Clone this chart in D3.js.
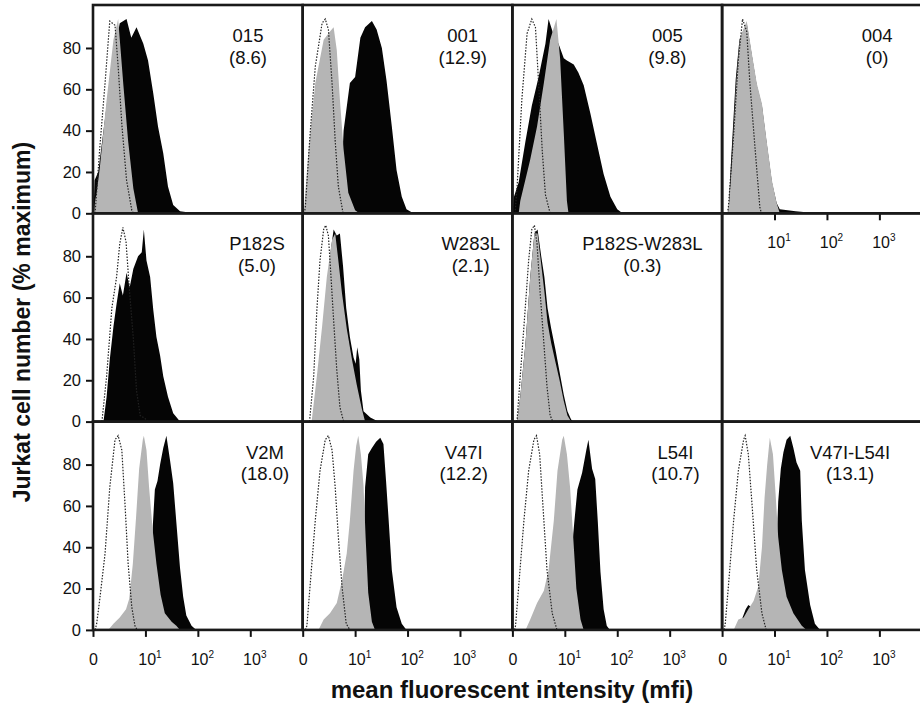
<!DOCTYPE html>
<html>
<head>
<meta charset="utf-8">
<script src="https://cdn.jsdelivr.net/npm/d3@7"></script>
<style>
body { margin: 0; background: #fff; }
svg text { font-family: "Liberation Sans", Arial, Helvetica, sans-serif; fill: #111; }
</style>
</head>
<body>
<div id="canvas"></div>
<script>
// panels row by row, null = empty cell
var panelNames = ["015", "001", "005", "004",
                  "P182S", "W283L", "P182S-W283L", null,
                  "V2M", "V47I", "L54I", "V47I-L54I"];
var panelMfi = ["8.6", "12.9", "9.8", "0",
                "5.0", "2.1", "0.3", null,
                "18.0", "12.2", "10.7", "13.1"];

// histograms as [log10 fluorescence, % maximum]
// dotted outline (control)
var controlCurves = [
    [[0.04,0],[0.13,32],[0.23,63],[0.32,93],[0.42,91],[0.48,71],[0.55,43],[0.64,16],[0.74,1.5],[0.77,0]],
    [[0.03,0],[0.05,3],[0.14,38],[0.24,71],[0.37,92],[0.43,94],[0.49,89],[0.56,63],[0.62,35],[0.68,13],[0.77,0]],
    [[0.05,0],[0.09,13],[0.18,55],[0.28,87],[0.37,94],[0.44,90],[0.50,63],[0.57,30],[0.63,9],[0.72,0]],
    [[0.10,0],[0.12,3],[0.22,38],[0.31,74],[0.39,94],[0.47,88],[0.53,63],[0.63,31],[0.72,3],[0.75,0]],
    [[0.17,0],[0.26,22],[0.36,55],[0.45,70],[0.51,86],[0.57,94],[0.63,87],[0.70,62],[0.77,40],[0.83,15],[0.90,3],[0.99,1.5],[1.05,0]],
    [[0.13,0],[0.21,22],[0.27,54],[0.33,78],[0.40,93],[0.44,95],[0.49,90],[0.54,70],[0.59,49],[0.65,25],[0.71,7],[0.78,0]],
    [[0.07,0],[0.09,1],[0.15,22],[0.22,46],[0.31,78],[0.37,93],[0.42,95],[0.47,86],[0.53,62],[0.60,38],[0.66,17],[0.72,3],[0.77,0]],
    null,
    [[0.04,0],[0.07,3],[0.13,15],[0.23,37],[0.32,69],[0.42,92],[0.48,94],[0.55,87],[0.61,61],[0.67,32],[0.74,11],[0.80,2],[0.84,0]],
    [[0.05,0],[0.08,2],[0.14,21],[0.24,53],[0.33,77],[0.43,92],[0.49,94],[0.56,87],[0.62,69],[0.68,45],[0.75,21],[0.83,3],[0.90,0]],
    [[0.04,0],[0.06,2],[0.12,21],[0.22,53],[0.31,77],[0.41,92],[0.46,94],[0.52,85],[0.58,61],[0.66,29],[0.76,8],[0.85,0]],
    [[0.04,0],[0.06,3],[0.12,21],[0.22,53],[0.31,77],[0.41,92],[0.44,94],[0.50,85],[0.57,61],[0.66,29],[0.76,8],[0.84,0]]
];
// grey filled histogram
var greyCurves = [
    [[0.02,0],[0.04,6],[0.07,10],[0.13,22],[0.26,55],[0.39,84],[0.48,94],[0.58,62],[0.67,35],[0.77,12],[0.86,0]],
    [[0.02,0],[0.03,3],[0.11,30],[0.24,63],[0.40,84],[0.52,88],[0.59,90],[0.65,79],[0.71,55],[0.78,31],[0.87,10],[1.00,1.5],[1.08,0]],
    [[0.12,0],[0.15,6],[0.34,26],[0.47,42],[0.60,63],[0.72,84],[0.84,94],[0.91,75],[0.98,39],[1.04,6],[1.07,0]],
    [[0.12,0],[0.18,22],[0.27,63],[0.34,85],[0.47,93],[0.57,77],[0.66,63],[0.76,53],[0.85,35],[0.95,16],[1.04,5],[1.10,0]],
    null,
    [[0.17,0],[0.27,22],[0.37,46],[0.46,70],[0.56,88],[0.62,91],[0.68,78],[0.75,62],[0.84,45],[0.94,30],[1.03,18],[1.13,6],[1.19,0]],
    [[0.09,0],[0.15,12],[0.25,38],[0.34,70],[0.42,91],[0.48,91],[0.55,76],[0.61,63],[0.67,48],[0.74,38],[0.82,29],[0.90,20],[0.98,10],[1.05,3],[1.12,0]],
    null,
    [[0.29,0],[0.39,3],[0.51,6],[0.63,10],[0.69,15],[0.76,32],[0.82,54],[0.88,78],[0.95,92],[0.97,94],[1.02,87],[1.07,69],[1.14,48],[1.21,32],[1.29,17],[1.37,8],[1.50,4],[1.59,2],[1.66,0]],
    [[0.30,0],[0.40,5],[0.52,8],[0.65,13],[0.75,24],[0.84,37],[0.90,53],[0.97,77],[1.02,89],[1.06,94],[1.11,85],[1.16,70],[1.20,45],[1.25,18],[1.32,4],[1.38,0]],
    [[0.25,0],[0.34,5],[0.47,13],[0.60,19],[0.69,29],[0.79,53],[0.86,77],[0.95,92],[0.98,94],[1.04,85],[1.10,69],[1.16,45],[1.22,20],[1.30,5],[1.36,0]],
    [[0.22,0],[0.31,5],[0.41,6],[0.50,10],[0.60,14],[0.69,21],[0.76,40],[0.81,64],[0.86,80],[0.91,93],[0.97,85],[1.02,66],[1.07,45],[1.14,29],[1.23,16],[1.36,8],[1.52,2],[1.61,0]]
];
// black filled histogram
var blackCurves = [
    [[0.01,0],[0.03,16],[0.10,20],[0.20,40],[0.35,70],[0.51,92],[0.64,94],[0.73,85],[0.83,90],[0.96,82],[1.05,74],[1.15,58],[1.24,42],[1.34,29],[1.43,13],[1.53,4],[1.66,1],[1.80,0.5],[2.80,0.3],[2.90,0]],
    [[0.68,0],[0.72,5],[0.78,40],[0.90,63],[1.00,66],[1.10,85],[1.19,90],[1.32,93],[1.41,89],[1.51,80],[1.60,64],[1.70,42],[1.79,21],[1.89,8],[1.98,2],[2.11,0]],
    [[0.00,0],[0.03,8],[0.12,15],[0.25,35],[0.37,52],[0.50,66],[0.63,82],[0.69,94],[0.79,86],[0.88,82],[0.98,75],[1.04,74],[1.17,72],[1.26,68],[1.36,62],[1.49,48],[1.61,34],[1.74,19],[1.87,8],[2.00,2],[2.10,0]],
    [[0.12,0],[0.17,25],[0.26,65],[0.33,84],[0.47,92],[0.57,76],[0.66,62],[0.76,52],[0.85,34],[0.95,15],[1.04,5],[1.10,2],[1.25,1.5],[1.40,1],[1.60,0.5],[2.20,0.3],[2.30,0]],
    [[0.20,0],[0.26,12],[0.32,30],[0.39,46],[0.45,57],[0.51,67],[0.57,61],[0.64,72],[0.70,65],[0.77,74],[0.86,80],[0.93,82],[0.97,93],[1.02,78],[1.09,70],[1.15,54],[1.21,41],[1.28,32],[1.34,22],[1.43,12],[1.53,4],[1.66,0]],
    [[0.45,0],[0.52,80],[0.59,93],[0.65,90],[0.71,91],[0.77,75],[0.83,55],[0.90,41],[0.97,31],[1.01,28],[1.04,36],[1.08,30],[1.11,15],[1.16,5],[1.29,2],[1.44,0]],
    [[0.09,0],[0.15,12],[0.25,38],[0.34,70],[0.42,91],[0.48,93],[0.55,80],[0.61,70],[0.67,55],[0.74,45],[0.82,35],[0.90,24],[0.98,13],[1.05,5],[1.12,1],[1.16,0]],
    null,
    [[1.00,0],[1.09,10],[1.14,50],[1.18,68],[1.23,72],[1.28,80],[1.34,88],[1.40,94],[1.47,82],[1.53,71],[1.59,52],[1.66,30],[1.72,16],[1.78,7],[1.88,2],[1.97,0]],
    [[1.00,0],[1.16,30],[1.19,69],[1.25,85],[1.32,88],[1.40,91],[1.48,93],[1.54,90],[1.59,72],[1.64,53],[1.70,29],[1.79,11],[1.89,3],[1.98,0]],
    [[1.00,0],[1.14,40],[1.18,52],[1.24,68],[1.33,76],[1.41,87],[1.45,92],[1.52,78],[1.58,73],[1.63,52],[1.68,28],[1.74,10],[1.80,2],[1.86,0]],
    [[0.30,0],[0.45,10],[0.50,12],[0.56,11],[0.70,10],[0.90,15],[1.00,20],[1.04,40],[1.07,62],[1.12,78],[1.17,86],[1.23,92],[1.30,94],[1.36,88],[1.42,81],[1.49,77],[1.52,53],[1.58,29],[1.68,12],[1.77,3],[1.87,0]]
];

var yTicks = [0, 20, 40, 60, 80];
var xTicks = [1, 10, 100, 1000];

// layout
var W = 920, H = 708;
var gridLeft = 93, gridTop = 5, pw = 209.7, ph = 208.3, ncol = 4;
var labelX = [155, 160, 155, 155, 164, 168, 130, 0, 172, 161, 163, 128];

var svg = d3.select("#canvas").append("svg").attr("width", W).attr("height", H);

svg.append("defs").append("clipPath").attr("id", "cell")
    .append("rect").attr("x", 0).attr("y", 0).attr("width", pw).attr("height", ph);

var x = d3.scaleLog().domain([1, 1e4]).range([0, pw]);
var y = d3.scaleLinear().domain([0, 100.8]).range([ph, 0]);

var area = d3.area().x(d => x(Math.pow(10, d[0]))).y0(ph).y1(d => y(d[1]));
var line = d3.line().x(d => x(Math.pow(10, d[0]))).y(d => y(d[1]));

function supLabels(sel) {
    sel.selectAll(".tick text").each(function(d) {
        var t = d3.select(this).text("").attr("y", 35).attr("dy", null)
            .style("font-size", "16px");
        if (d === 1) { t.text("0"); return; }
        t.attr("dx", "4px");
        t.append("tspan").text("10");
        t.append("tspan").text(Math.round(Math.log10(d)))
            .attr("dy", "-7").style("font-size", "10px");
    });
}

panelNames.forEach(function(name, i) {
    var r = Math.floor(i / ncol), c = i % ncol;
    var g = svg.append("g").attr("transform", "translate(" + (gridLeft + c * pw) + "," + (gridTop + r * ph) + ")");
    var plot = g.append("g").attr("clip-path", "url(#cell)");

    if (blackCurves[i]) plot.append("path").attr("d", area(blackCurves[i])).attr("fill", "#050505");
    if (greyCurves[i]) plot.append("path").attr("d", area(greyCurves[i])).attr("fill", "#b5b5b5");
    if (controlCurves[i]) plot.append("path").attr("d", line(controlCurves[i]))
        .attr("fill", "none").attr("stroke", "#222").attr("stroke-width", 1.2)
        .attr("stroke-dasharray", "1.5,1.5");

    if (name) {
        g.append("text").attr("x", labelX[i]).attr("y", 37)
            .attr("text-anchor", "middle").style("font-size", "18.5px").text(name);
        g.append("text").attr("x", labelX[i]).attr("y", 58.5)
            .attr("text-anchor", "middle").style("font-size", "18.5px").text("(" + panelMfi[i] + ")");
    }

    // y axis on the first column
    if (c === 0) {
        var ya = g.append("g").call(d3.axisLeft(y).tickValues(yTicks).tickSize(7).tickPadding(5));
        ya.select(".domain").remove();
        ya.selectAll(".tick line").attr("stroke", "#111").attr("stroke-width", 2);
        ya.selectAll(".tick text").style("font-size", "16.5px").attr("fill", "#111");
    }

    // x axis on the bottom row and under panel 004
    if (r === 2 || i === 3) {
        var ticks = (r === 2) ? xTicks : xTicks.slice(1);
        var xa = g.append("g").attr("transform", "translate(0," + ph + ")")
            .call(d3.axisBottom(x).tickValues(ticks).tickSize(7));
        xa.select(".domain").remove();
        xa.selectAll(".tick line").attr("stroke", "#111").attr("stroke-width", 2);
        supLabels(xa);
    }

    g.append("rect").attr("width", pw).attr("height", ph)
        .attr("fill", "none").attr("stroke", "#1a1a1a").attr("stroke-width", 2.6);
});

svg.append("text")
    .attr("transform", "translate(30," + 322 + ") rotate(-90)")
    .attr("text-anchor", "middle")
    .style("font-size", "23px").style("font-weight", "bold")
    .text("Jurkat cell number (% maximum)");

svg.append("text")
    .attr("x", 512).attr("y", 698)
    .attr("text-anchor", "middle")
    .style("font-size", "24px").style("font-weight", "bold")
    .text("mean fluorescent intensity (mfi)");
</script>
</body>
</html>
